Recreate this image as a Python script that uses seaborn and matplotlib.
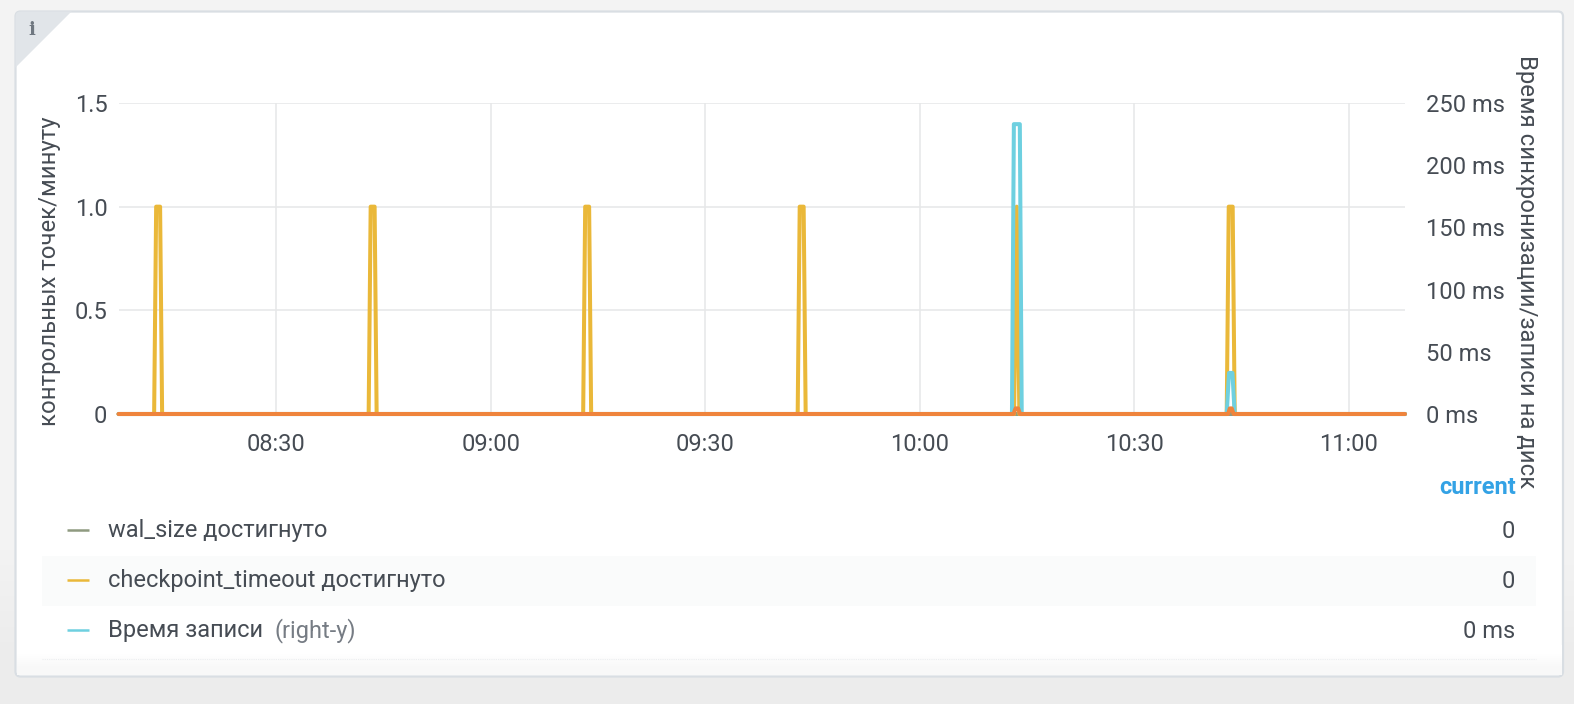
import matplotlib.dates as mdates
import matplotlib.pyplot as plt
import numpy as np
import pandas as pd
import seaborn as sns
from matplotlib.patches import FancyBboxPatch, Polygon, Rectangle

# series, each one with its own sample times
base_day = "2021-03-01 "
start_time = "08:07:55"
end_time = "11:07:50"

timeout_times = ["08:07:55",
                 "08:12:54", "08:13:11", "08:13:44", "08:14:01",
                 "08:42:54", "08:43:11", "08:43:44", "08:44:01",
                 "09:12:54", "09:13:11", "09:13:44", "09:14:01",
                 "09:42:54", "09:43:11", "09:43:44", "09:44:01",
                 "10:13:10", "10:13:32", "10:13:54",
                 "10:42:54", "10:43:11", "10:43:44", "10:44:01",
                 "11:07:50"]
timeout_values = [0,
                  0, 1, 1, 0,
                  0, 1, 1, 0,
                  0, 1, 1, 0,
                  0, 1, 1, 0,
                  0, 1, 0,
                  0, 1, 1, 0,
                  0]

write_times = ["08:07:55", "10:12:52", "10:13:08", "10:13:58", "10:14:14",
               "10:42:54", "10:43:13", "10:43:42", "10:44:01", "11:07:50"]
write_values = [0, 0, 233, 233, 0, 0, 33, 33, 0, 0]

sync_times = ["08:07:55", "10:13:05", "10:13:22", "10:13:44", "10:14:00",
              "10:43:05", "10:43:20", "10:43:36", "10:43:52", "11:07:50"]
sync_values = [0, 0, 4.5, 4.5, 0, 0, 4.5, 4.5, 0, 0]

wal_times = ["08:07:55", "11:07:50"]
wal_values = [0, 0]

left_ticks = [0, 0.5, 1.0, 1.5]
left_tick_labels = ["0", "0.5", "1.0", "1.5"]
right_ticks = [0, 50, 100, 150, 200, 250]
right_tick_labels = ["0 ms", "50 ms", "100 ms", "150 ms", "200 ms", "250 ms"]
x_tick_times = ["08:30", "09:00", "09:30", "10:00", "10:30", "11:00"]

legend_names = ["wal_size достигнуто", "checkpoint_timeout достигнуто", "Время записи"]
legend_current = ["0", "0", "0 ms"]

WAL_COLOR = "#8f9a80"
TIMEOUT_COLOR = "#EAB839"
WRITE_COLOR = "#6ED0E0"
SYNC_COLOR = "#EF843C"
TEXT_COLOR = "#464c54"
GRID_COLOR = "#e6e7e8"

W, H = 1574, 704
FONT = 17


def series_frame(times, values):
    return pd.DataFrame({"time": pd.to_datetime([base_day + t for t in times]), "value": values})


sns.set_theme(style="white")
plt.rcParams["font.family"] = ["Roboto", "DejaVu Sans"]

fig = plt.figure(figsize=(W / 100, H / 100), dpi=100)

# page and panel, in pixels
bg = fig.add_axes([0, 0, 1, 1], zorder=0)
bg.axis("off")
page = np.array([[0.957], [0.957], [0.957], [0.957], [0.955], [0.925]])
bg.imshow(page, extent=(0, W, H, 0), aspect="auto", cmap="gray", vmin=0, vmax=1,
          interpolation="bilinear")

panel = FancyBboxPatch((15.5, 11.5), 1547.5, 665, boxstyle="round,pad=0,rounding_size=5",
                       facecolor="white", edgecolor="#d9dee3", linewidth=1.6, zorder=1)
bg.add_patch(panel)
fade = bg.imshow(np.array([[1.0], [0.97]]), extent=(17, 1562, 675, 645), aspect="auto",
                 cmap="gray", vmin=0, vmax=1, interpolation="bilinear", zorder=1.1)
corner = Polygon([(15, 11), (72, 11), (15, 68)], closed=True, facecolor="#e1e5e9", edgecolor="none", zorder=1.2)
bg.add_patch(corner)
corner.set_clip_path(panel)
bg.text(31.5, 30, "i", family="DejaVu Serif", weight="bold", fontsize=13, color="#6f7780",
        ha="center", va="center", zorder=2)

# legend table
bg.add_patch(Rectangle((42, 556), 1494, 50, facecolor="#fafbfb", edgecolor="none", zorder=1.3))
bg.plot([42, 1536], [659, 659], color="#eceef0", lw=0.8, ls=(0, (1, 1)), zorder=1.3)
row_y = [531, 581, 631]
for name, cur, y, col in zip(legend_names, legend_current, row_y, [WAL_COLOR, TIMEOUT_COLOR, WRITE_COLOR]):
    bg.plot([67, 89], [y - 1, y - 1], color=col, lw=1.8, solid_capstyle="butt", zorder=2)
    bg.text(108, y, name, fontsize=FONT, color=TEXT_COLOR, va="center", ha="left", zorder=2)
    bg.text(1515, y, cur, fontsize=FONT, color=TEXT_COLOR, va="center", ha="right", zorder=2)
bg.text(274, 631, "(right-y)", fontsize=FONT, color="#767c84", va="center", ha="left", zorder=2)
bg.text(1516, 487, "current", fontsize=FONT, weight="bold", color="#33a2e5", va="center", ha="right", zorder=2)
bg.set_xlim(0, W)
bg.set_ylim(H, 0)

# chart
ax = fig.add_axes([118.5 / W, 1 - 414 / H, (1405 - 118.5) / W, (414 - 103) / H], zorder=2)
ax.patch.set_visible(False)
ax2 = ax.twinx()
ax2.patch.set_visible(False)

line_kw = dict(x="time", y="value", estimator=None, legend=False, linewidth=2.9, clip_on=False)
sns.lineplot(data=series_frame(wal_times, wal_values), ax=ax, color=WAL_COLOR, **line_kw)
sns.lineplot(data=series_frame(timeout_times, timeout_values), ax=ax, color=TIMEOUT_COLOR, **line_kw)
sns.lineplot(data=series_frame(write_times, write_values), ax=ax2, color=WRITE_COLOR, **line_kw)
sns.lineplot(data=series_frame(sync_times, sync_values), ax=ax2, color=SYNC_COLOR, **line_kw)

x0, x1 = pd.to_datetime([base_day + start_time, base_day + end_time])
ax.set_xlim(x0, x1)
ax.set_ylim(0, 1.5)
ax2.set_ylim(0, 250)

ax.set_xticks(pd.to_datetime([base_day + t for t in x_tick_times]))
ax.xaxis.set_major_formatter(mdates.DateFormatter("%H:%M"))
ax.set_yticks(left_ticks, left_tick_labels)
ax2.set_yticks(right_ticks, right_tick_labels)
ax.grid(True, color=GRID_COLOR, linewidth=1.1)
ax.set_axisbelow(True)
ax.tick_params(axis="both", length=0, labelsize=FONT, labelcolor=TEXT_COLOR, pad=8)
ax.tick_params(axis="x", pad=14)
ax2.tick_params(axis="y", length=0, labelsize=FONT, labelcolor=TEXT_COLOR, pad=15)
for a in (ax, ax2):
    a.set_xlabel("")
    for spine in a.spines.values():
        spine.set_visible(False)

ax.set_ylabel("контрольных точек/минуту", fontsize=17.2, color=TEXT_COLOR)
ax.yaxis.set_label_coords((61 - 118.5) / (1405 - 118.5), 0.46)
ax2.set_ylabel("Время синхронизации/записи на диск", fontsize=17.2, color=TEXT_COLOR, rotation=270, va="center")
ax2.yaxis.set_label_coords((1527 - 118.5) / (1405 - 118.5), 0.457)

fig.savefig("out.png", dpi=100)
